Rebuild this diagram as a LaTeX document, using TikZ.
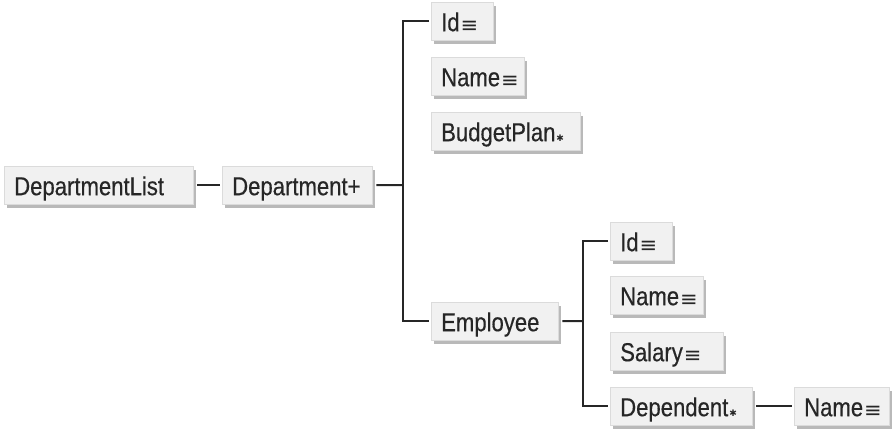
\documentclass[tikz,border=0pt]{standalone}
\usepackage{fontspec}
\setmainfont{Liberation Sans}[FakeStretch=0.85,FakeBold=0.4]
\newfontfamily\symfont{DejaVu Sans}
\usetikzlibrary{shadows}
\newcommand{\eqv}{\kern1pt\raisebox{-1pt}{\symfont\fontsize{21pt}{21pt}\selectfont ≡}}
\newcommand{\mystar}{\kern1pt{\symfont\fontsize{9pt}{9pt}\selectfont ✱}}
\tikzset{
  box/.style={draw=gray!28, fill=gray!11, anchor=north west, align=left,
    inner xsep=10pt, inner ysep=0pt, minimum height=38pt,
    text height=23pt, text depth=3pt, text=black!85,
    font=\fontsize{26pt}{30pt}\selectfont,
    general shadow={fill=gray!55, shadow xshift=3pt, shadow yshift=-4pt}},
  conn/.style={line width=2pt, draw=black!85}
}
\begin{document}
\begin{tikzpicture}[x=1pt,y=1pt]
\useasboundingbox (0,0) rectangle (894,-433);
\node[box, text width=169pt] (DL)   at (4,-166)   {DepartmentList};
\node[box, text width=130pt] (Dept) at (222,-166) {Department+};
\node[box, text width=42pt]  (Id1)  at (431,-2)   {Id\eqv};
\node[box, text width=73pt]  (Nm1)  at (431,-57)  {Name\eqv};
\node[box, text width=129pt] (BP)   at (431,-112) {BudgetPlan\mystar};
\node[box, text width=107pt] (Emp)  at (431,-302) {Employee};
\node[box, text width=42pt]  (Id2)  at (610,-222) {Id\eqv};
\node[box, text width=73pt]  (Nm2)  at (610,-276) {Name\eqv};
\node[box, text width=93pt]  (Sal)  at (610,-332) {Salary\eqv};
\node[box, text width=122pt] (Dep)  at (610,-387) {Dependent\mystar};
\node[box, text width=75pt]  (Nm3)  at (794,-387) {Name\eqv};
\coordinate (j1) at (403,-185);
\coordinate (j2) at (583,-321);
\draw[conn] ([xshift=4pt]DL.east) -- ([xshift=-2pt]Dept.west);
\draw[conn] ([xshift=4pt]Dept.east) -- (j1);
\draw[conn] ([xshift=-2pt]Id1.west) -| (j1) |- ([xshift=-2pt]Emp.west);
\draw[conn] ([xshift=4pt]Emp.east) -- (j2);
\draw[conn] ([xshift=-2pt]Id2.west) -| (j2) |- ([xshift=-2pt]Dep.west);
\draw[conn] ([xshift=4pt]Dep.east) -- ([xshift=-2pt]Nm3.west);
\end{tikzpicture}
\end{document}
